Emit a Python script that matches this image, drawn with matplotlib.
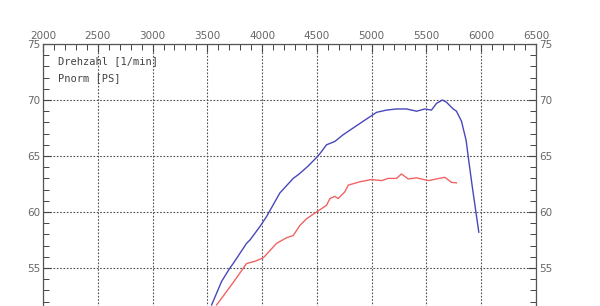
import matplotlib
matplotlib.use('Agg')
import matplotlib.pyplot as plt
from matplotlib.ticker import MultipleLocator, FixedLocator

# DATA
rpm_blue = [3539, 3630, 3706, 3736, 3858, 3889, 3980, 4041, 4162, 4284, 4339, 4420, 4500,
            4527, 4588, 4664, 4740, 4831, 4922, 4984, 5045, 5136, 5227, 5318, 5410,
            5485, 5546, 5592, 5646, 5683, 5744, 5774, 5820, 5862, 5886, 5922, 5953, 5978]
pnorm_blue = [51.7, 53.8, 55.0, 55.4, 57.2, 57.5, 58.7, 59.6, 61.7, 63.0, 63.4, 64.1, 64.9,
              65.2, 66.0, 66.3, 66.9, 67.5, 68.1, 68.5, 68.9, 69.1, 69.2, 69.2, 69.0,
              69.2, 69.1, 69.7, 70.0, 69.8, 69.2, 69.0, 68.1, 66.4, 64.6, 62.0, 59.9, 58.2]

rpm_red = [3585, 3736, 3858, 3934, 4010, 4132, 4223, 4284, 4345, 4406, 4497, 4588,
           4619, 4664, 4694, 4755, 4786, 4893, 4999, 5091, 5150, 5227, 5272, 5333,
           5410, 5516, 5592, 5667, 5728, 5774]
pnorm_red = [51.7, 53.7, 55.4, 55.6, 55.9, 57.2, 57.7, 57.9, 58.8, 59.4, 60.0, 60.6,
             61.2, 61.4, 61.2, 61.8, 62.4, 62.7, 62.9, 62.8, 63.0, 63.0, 63.4, 62.95,
             63.05, 62.8, 62.95, 63.1, 62.65, 62.6]

y_ticks = [55, 60, 65, 70, 75]
legend_lines = ['Drehzahl [1/min]', 'Pnorm [PS]']

# FIGURE
fig = plt.figure(figsize=(6, 3.06), dpi=100)
ax = fig.add_axes([43/600, (306-324)/306, 493/600, 280/306])

ax.plot(rpm_blue, pnorm_blue, color='#4848b8', lw=1.0)
ax.plot(rpm_red, pnorm_red, color='#f06464', lw=1.0)

ax.set_xlim(2000, 6500)
ax.set_ylim(50, 75)
ax.xaxis.set_major_locator(MultipleLocator(500))
ax.xaxis.set_minor_locator(MultipleLocator(100))
ax.yaxis.set_major_locator(FixedLocator(y_ticks))
ax.yaxis.set_minor_locator(MultipleLocator(1))

ax.tick_params(which='both', direction='in', top=True, bottom=False,
               labeltop=True, labelbottom=False, left=True, right=True,
               labelleft=True, labelright=True, colors='#444444',
               labelcolor='#666666', labelsize=7.5, pad=2)
ax.tick_params(which='major', length=6, width=0.8)
ax.tick_params(which='minor', length=4, width=0.7)

ax.grid(True, which='major', linestyle=(0, (1.5, 1.5)), color='#505050', lw=0.8)
for s in ax.spines.values():
    s.set_color('#555555')
    s.set_linewidth(0.9)

# legend text, pixel coords from the top-left corner
for i, txt in enumerate(legend_lines):
    ax.text(58, 306 - (61 + 17*i), txt, transform=None, fontsize=7.5,
            family='DejaVu Sans Mono', color='#444444', va='center')

fig.savefig('out.png', dpi=100)
